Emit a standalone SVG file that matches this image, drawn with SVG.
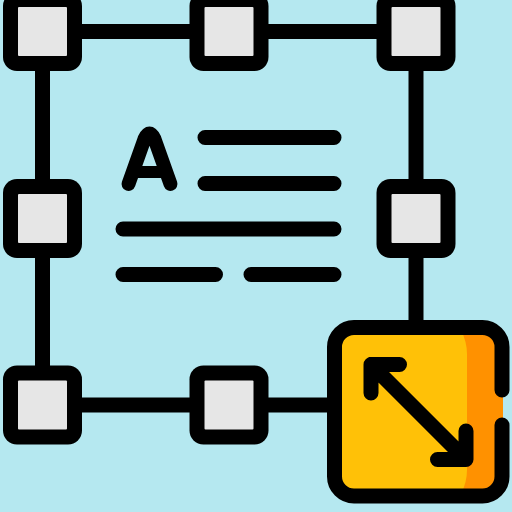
<svg xmlns="http://www.w3.org/2000/svg" width="512" height="512" viewBox="0 0 512 512">
<style>
.k{fill:none;stroke:#000;stroke-width:15;stroke-linecap:round;stroke-linejoin:round}
.o{fill:#000}
.i{fill:#e6e6e6}
</style>
<defs><g id="h"><rect class="o" x="-39.500" y="-39.500" width="79" height="79" rx="14"/><rect class="i" x="-24.500" y="-24.500" width="49" height="49" rx="1"/></g></defs>
<rect width="512" height="512" fill="#b5e8f0"/>
<g id="connectors" class="k" style="stroke-linecap:butt">
<path d="M42.500 31.500H416V330M42.500 31.500V405H335"/>
</g>
<g id="node-tl"><use href="#h" x="42.500" y="31.500"/></g>
<g id="node-tc"><use href="#h" x="229" y="31.500"/></g>
<g id="node-tr"><use href="#h" x="416" y="31.500"/></g>
<g id="node-ml"><use href="#h" x="42.500" y="218.500"/></g>
<g id="node-mr"><use href="#h" x="416" y="218.500"/></g>
<g id="node-bl"><use href="#h" x="42.500" y="405"/></g>
<g id="node-bc"><use href="#h" x="229" y="405"/></g>
<g id="text-block" class="k">
<path d="M128.500 184L144.500 139Q149.500 128 154.500 139L170.500 184" stroke-width="14"/>
<path d="M136 172H163" stroke-width="12" stroke-linecap="butt"/>
<path d="M205 137.500H334M205 183.500H334M123 229H334M123 274.500H215.500M251 274.500H334"/>
</g>
<g id="node-resize">
<rect x="335" y="328" width="167" height="168" rx="19" fill="#ffc107"/>
<path d="M461 330H483Q500 330 500 347V380H503V435H500V477Q500 494 483 494H461Q467 482 467 470V354Q467 342 461 330Z" fill="#ff9100"/>
<path class="k" d="M502 390V347A19.500 19.500 0 0 0 482.500 327.500H354A19.500 19.500 0 0 0 334.500 347V476.500A19.500 19.500 0 0 0 354 496H482.500A19.500 19.500 0 0 0 502 476.500V425"/>
<path class="k" d="M399.500 364.500H371V393M371 364.500L466 459.500M437.500 459.500H466V431"/>
</g>
</svg>
